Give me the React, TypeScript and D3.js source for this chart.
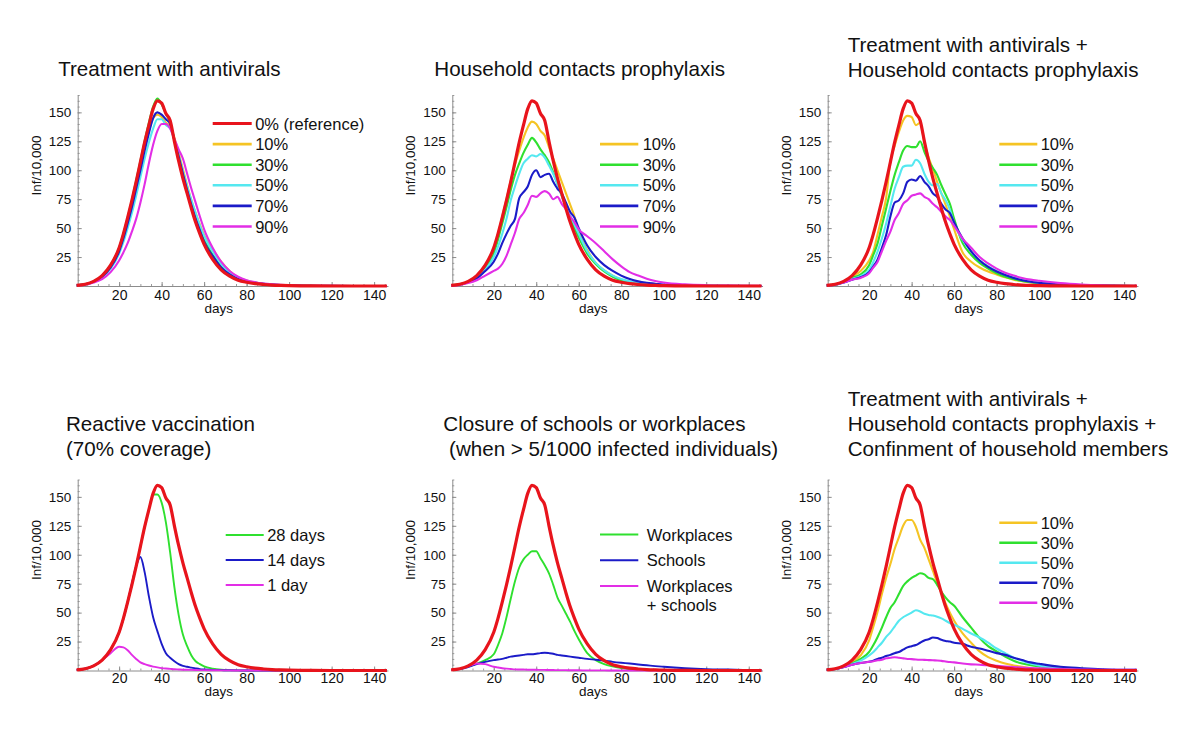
import React, { useEffect, useRef } from "react";
import * as d3 from "d3";

// sampling days shared by every series
const days = [0, 4, 8, 12, 16, 20, 22, 24, 26, 28, 30, 32, 34, 36, 38, 40, 42, 44, 46, 48, 50, 52, 54, 56, 58, 60, 64, 68, 72, 76, 80, 84, 88, 92, 96, 100, 110, 120, 130, 146];

// no intervention (red curve in every panel)
const reference = [0.5, 1.5, 4, 9, 18, 33, 45, 59, 74, 90, 107, 124, 139, 153, 160, 158, 149, 143, 125, 108, 93, 80, 67, 55, 45, 36, 23, 14, 8.5, 5, 3.2, 2, 1.3, 0.8, 0.5, 0.3, 0.1, 0, 0, 0];

// treatment with antivirals
const av10 = [0.5, 1.4, 3.8, 8.5, 17, 31, 42, 55, 70, 86, 103, 120, 134, 145, 148, 146, 141, 138, 128, 115, 101, 87, 74, 63, 53, 44, 32, 21, 13, 7.5, 4.7, 3, 2, 1.3, 0.8, 0.5, 0.2, 0.1, 0, 0];
const av30 = [0.5, 1.5, 4, 9, 18, 33, 45, 59, 74, 91, 108, 125, 141, 155, 162, 157, 149, 141, 126, 111, 97, 83, 70, 59, 49, 40, 27, 17, 10, 6, 3.8, 2.4, 1.6, 1, 0.6, 0.4, 0.1, 0, 0, 0];
const av50 = [0.5, 1.3, 3.5, 7.5, 15, 28, 38, 50, 63, 78, 94, 110, 124, 136, 144, 144, 139, 136, 126, 113, 99, 86, 74, 63, 52, 43, 30, 19, 11.5, 7, 4.5, 2.8, 1.8, 1.2, 0.7, 0.4, 0.1, 0, 0, 0];
const av70 = [0.5, 1.4, 3.7, 8, 16, 30, 41, 54, 68, 84, 100, 117, 132, 145, 150, 148, 144, 140, 126, 112, 97, 83, 70, 58, 48, 38, 26, 16, 10, 6, 4, 3, 2, 1.3, 0.8, 0.5, 0.2, 0.1, 0, 0];
const av90 = [0.4, 1.2, 3, 6, 12, 22, 29, 37, 47, 58, 72, 88, 106, 122, 134, 140, 140, 136, 127, 118, 110, 97, 84, 72, 60, 49, 33, 21, 13, 8, 5, 3.3, 2.2, 1.5, 1, 0.6, 0.2, 0.1, 0, 0];

// household contacts prophylaxis
const hp10 = [0.5, 1.4, 3.8, 8.5, 17, 32, 45, 60, 75, 91, 105, 117, 128, 137, 142, 140, 134, 130, 120, 110, 100, 90, 80, 70, 60, 47, 31, 20, 13.5, 9, 5.7, 3.7, 2.5, 1.7, 1, 0.7, 0.2, 0.1, 0, 0];
const hp30 = [0.5, 1.4, 3.6, 8, 16, 28, 40, 54, 68, 83, 96, 106, 115, 122, 128, 124, 118, 113, 107, 98, 88, 78, 68, 58, 50, 42, 28, 19, 12.5, 8, 5, 3.3, 2.2, 1.4, 0.9, 0.6, 0.2, 0.1, 0, 0];
const hp50 = [0.5, 1.3, 3.4, 7.5, 14, 25, 34, 45, 58, 74, 86, 97, 106, 110, 113, 112, 114, 111, 104, 97, 88, 78, 68, 61, 53, 45, 30, 20, 13.5, 9, 6, 4, 2.6, 1.7, 1.1, 0.7, 0.2, 0.1, 0, 0];
const hp70 = [0.5, 1.3, 3.2, 6.5, 13, 21, 28, 37, 45, 52, 58, 76, 81, 86, 96, 100, 94, 96, 97, 90, 84, 80, 72, 64, 59, 50, 35, 25, 18, 13, 9, 6, 4, 2.8, 2, 1.2, 0.4, 0.2, 0.1, 0];
const hp90 = [0.4, 1, 2.5, 5, 9, 13, 15, 19, 26, 36, 46, 58, 63, 70, 78, 77, 80, 82, 80, 75, 77, 71, 66, 60, 55, 49, 43, 37, 30, 23, 17, 12, 9, 6.3, 4.3, 3, 1.4, 0.7, 0.4, 0.1];

// antivirals + household prophylaxis
const ap10 = [0.5, 1.4, 3.8, 8, 13, 22, 30, 45, 60, 76, 108, 121, 133, 143, 147, 146, 139, 141, 124, 111, 101, 90, 80, 70, 60, 49, 29, 21, 16, 12.5, 10, 7.5, 5.5, 4.2, 3.2, 2.3, 1.1, 0.5, 0.2, 0];
const ap30 = [0.5, 1.3, 3.5, 7, 10, 18, 27, 37, 52, 67, 82, 96, 107, 117, 121, 120, 120, 125, 116, 108, 102, 96, 87, 79, 71, 58, 37, 27, 20, 15, 11, 8, 6, 4.3, 3.3, 2.5, 1.2, 0.6, 0.3, 0];
const ap50 = [0.5, 1.2, 3, 6, 8.5, 14, 21, 30, 41, 54, 69, 84, 94, 103, 104, 104, 109, 106, 97, 90, 87, 88, 80, 74, 66, 54, 40, 30, 22, 17, 13, 10, 7.5, 5.5, 4, 3, 1.4, 0.7, 0.3, 0];
const ap70 = [0.5, 1.2, 3, 5.5, 7.5, 12, 17, 23, 33, 44, 60, 72, 74, 80, 90, 92, 91, 95, 90, 86, 80, 77, 71, 66, 63, 55, 41, 30, 22, 16.5, 12.5, 9.5, 7, 5, 3.6, 2.7, 1.3, 0.6, 0.3, 0];
const ap90 = [0.5, 1.2, 3, 5.5, 7, 11, 16, 21, 30, 39, 47, 57, 63, 71, 74, 78, 79, 80, 77, 75, 71, 68, 64, 60, 57, 52, 41, 33, 25, 19.5, 15, 11.5, 9, 7, 5.5, 4.5, 2.5, 1.3, 0.6, 0.1];

// reactive vaccination, 70% coverage, by delay
const vac28 = [0.5, 1.5, 4, 9, 18, 33, 45, 59, 74, 90, 107, 124, 139, 152, 152, 145, 128, 102, 72, 48, 31, 21, 13, 8, 5.5, 3.5, 1.6, 0.7, 0.3, 0.1, 0, 0, 0, 0, 0, 0, 0, 0, 0, 0];
const vac14 = [0.5, 1.5, 4, 9, 18, 33, 45, 59, 75, 90, 98, 85, 64, 46, 34, 23, 15, 11, 8, 5.5, 4, 3.2, 2.5, 1.8, 1.2, 0.9, 0.5, 0.3, 0.2, 0.1, 0, 0, 0, 0, 0, 0, 0, 0, 0, 0];
const vac1 = [0.5, 1.5, 4, 9, 15, 20.5, 20, 17.5, 13.5, 10, 7, 5.5, 4.3, 3.4, 2.7, 2.1, 1.7, 1.4, 1.1, 0.9, 0.7, 0.6, 0.5, 0.4, 0.3, 0.3, 0.2, 0.1, 0.1, 0, 0, 0, 0, 0, 0, 0, 0, 0, 0, 0];

// closure of schools / workplaces
const closeWork = [0.5, 1.4, 3.5, 6, 9, 14, 22, 32, 46, 62, 77, 89, 96, 100, 103, 103, 97, 91, 84, 74, 63, 56, 49, 42, 34, 27, 15, 9, 5.5, 3.5, 2, 1.1, 0.7, 0.5, 0.3, 0.2, 0.1, 0, 0, 0];
const closeSchool = [0.5, 1.3, 3, 5.5, 7.5, 9, 9.5, 10, 11, 12, 12.5, 13, 13.5, 14, 14, 14.5, 15, 15.3, 15, 14.5, 13.5, 13, 12.5, 12, 11.5, 11, 10, 9.3, 8.5, 7.5, 6.7, 6, 5.2, 4.5, 3.8, 3.2, 2, 1.2, 0.8, 0.3];
const closeBoth = [0.5, 1.3, 3.5, 6, 5.5, 3.2, 2.6, 2, 1.6, 1.3, 1, 0.9, 0.8, 0.7, 0.6, 0.6, 0.5, 0.5, 0.4, 0.4, 0.3, 0.3, 0.3, 0.2, 0.2, 0.2, 0.1, 0.1, 0.1, 0, 0, 0, 0, 0, 0, 0, 0, 0, 0, 0];

// antivirals + prophylaxis + household confinement
const cf10 = [0.5, 1.4, 3.5, 7, 13, 26, 38, 51, 66, 80, 92, 105, 115, 125, 130, 130, 124, 113, 106, 96, 86, 76, 67, 58, 50, 43, 32, 24, 16.5, 11.5, 8.5, 6, 4.4, 3.2, 2.2, 1.5, 0.7, 0.3, 0.1, 0];
const cf30 = [0.5, 1.3, 3, 6, 10, 16, 22, 29, 37, 46, 54, 59, 66, 73, 77, 80, 82, 84, 83, 80, 79, 74, 68, 63, 59, 56, 46, 37, 28, 21, 16.5, 12, 8.5, 6, 4.5, 3.5, 1.8, 0.8, 0.4, 0];
const cf50 = [0.5, 1.2, 3, 5.5, 8.5, 13, 16, 20, 24, 29, 33, 38, 43, 46, 48, 50, 52, 51, 49, 48, 47.5, 46.5, 45, 43, 41, 39.5, 36, 32, 28.5, 24, 19, 15, 11, 8.5, 6, 4.3, 2, 0.9, 0.4, 0.1];
const cf70 = [0.5, 1.3, 3, 5, 6.5, 7.5, 8.5, 10, 11, 12.5, 13.5, 15, 16, 18, 20, 21, 22, 24, 26, 27, 28.5, 28, 26.5, 25.5, 25, 24, 23, 20.5, 19, 17, 15, 13.5, 11, 9, 7, 5.8, 3.2, 2, 1.1, 0.5];
const cf90 = [0.5, 1.3, 3, 5, 6.5, 7.5, 8, 8.8, 9.3, 10.5, 11, 11.5, 11, 10.5, 10, 9.8, 9.5, 9.3, 9.2, 9, 8.8, 8.7, 8.3, 7.8, 7.3, 7, 6, 5.3, 5, 4.5, 4, 3.5, 3, 2.5, 2.1, 1.8, 1.2, 0.9, 0.7, 0.5];

const yTicks = [25, 50, 75, 100, 125, 150];
const xTicks = [20, 40, 60, 80, 100, 120, 140];
const pctLabels = ["10%", "30%", "50%", "70%", "90%"];

const RED = "#e8141c";
const YELLOW = "#f5c424";
const GREEN = "#2fe02f";
const CYAN = "#55e8f0";
const BLUE = "#1b1bc8";
const MAGENTA = "#e22ee6";
const pctColors = [YELLOW, GREEN, CYAN, BLUE, MAGENTA];
const FONT = "'Liberation Sans', Arial, Helvetica, sans-serif";

const colLeft = [77.7, 452.3, 827.7];
const rowBottom = [286, 670.5];
const plotW = 310.25;
const plotH = 191;

const pct = (vals) => vals.map((v, i) => ({ label: pctLabels[i], values: v, color: pctColors[i] }));

const panels = [
  {
    col: 0, row: 0,
    title: ["Treatment with antivirals"], titleDx: -19.5, baselines: [76],
    legend: { x0: 135, x1: 174, tx: 177.5, y0: 123.5, dy: 20.6, showRef: true },
    series: pct([av10, av30, av50, av70, av90]),
  },
  {
    col: 1, row: 0,
    title: ["Household contacts prophylaxis"], titleDx: -18, baselines: [76],
    legend: { x0: 147.7, x1: 186, tx: 190.4, y0: 144.1, dy: 20.6 },
    series: pct([hp10, hp30, hp50, hp70, hp90]),
  },
  {
    col: 2, row: 0,
    title: ["Treatment with antivirals +", "Household contacts prophylaxis"], titleDx: 20, baselines: [52, 77],
    legend: { x0: 171.6, x1: 209.6, tx: 213, y0: 144.1, dy: 20.6 },
    series: pct([ap10, ap30, ap50, ap70, ap90]),
  },
  {
    col: 0, row: 1,
    title: ["Reactive vaccination", "(70% coverage)"], titleDx: -11.7, baselines: [431, 456],
    legend: { x0: 148, x1: 186, tx: 189.5, y0: 535, dy: 25, thin: true },
    series: [
      { label: "28 days", values: vac28, color: GREEN },
      { label: "14 days", values: vac14, color: BLUE },
      { label: "1 day", values: vac1, color: MAGENTA },
    ],
  },
  {
    col: 1, row: 1,
    title: ["Closure of schools or workplaces", " (when > 5/1000 infected individuals)"], titleDx: -9, baselines: [431, 456],
    legend: { x0: 147.7, x1: 186, tx: 194.4, y0: 534.5, dy: 25.7, thin: true },
    series: [
      { label: "Workplaces", values: closeWork, color: GREEN },
      { label: "Schools", values: closeSchool, color: BLUE },
      { label: "Workplaces", extra: "+ schools", values: closeBoth, color: MAGENTA },
    ],
  },
  {
    col: 2, row: 1,
    title: ["Treatment with antivirals +", "Household contacts prophylaxis +", "Confinment of household members"], titleDx: 20, baselines: [406, 431, 456],
    legend: { x0: 171.6, x1: 209.6, tx: 213, y0: 522.7, dy: 20 },
    series: pct([cf10, cf30, cf50, cf70, cf90]),
  },
];

export default function App() {
  const ref = useRef(null);

  useEffect(() => {
    draw();
  }, []);

  let draw = () => {
    let svg = d3.select(ref.current);
    svg.selectAll("*").remove();

    panels.forEach((p) => {
      let left = colLeft[p.col];
      let bottom = rowBottom[p.row];
      let g = svg.append("g");

      let x = d3.scaleLinear().domain([0.5, 146.5]).range([left, left + plotW]);
      let y = d3.scaleLinear().domain([0, 165]).range([bottom, bottom - plotH]);

      // title
      p.title.forEach((t, i) => {
        g.append("text")
          .attr("x", left + p.titleDx)
          .attr("y", p.baselines[i])
          .attr("font-size", 20.6)
          .attr("font-family", FONT)
          .attr("fill", "#111")
          .style("white-space", "pre")
          .text(t);
      });

      // minor ticks
      g.append("g")
        .attr("transform", `translate(${left},0)`)
        .call(d3.axisLeft(y).tickValues(d3.range(5, 166, 5)).tickSize(-2).tickSizeOuter(0).tickFormat(() => ""))
        .call((a) => a.select(".domain").remove())
        .call((a) => a.selectAll("line").attr("stroke", "#9a9a9a"));
      g.append("g")
        .attr("transform", `translate(0,${bottom})`)
        .call(d3.axisBottom(x).tickValues(d3.range(5, 146, 5)).tickSize(-2).tickSizeOuter(0).tickFormat(() => ""))
        .call((a) => a.select(".domain").remove())
        .call((a) => a.selectAll("line").attr("stroke", "#9a9a9a"));

      // y axis
      let ya = g.append("g")
        .attr("transform", `translate(${left},0)`)
        .call(d3.axisLeft(y).tickValues(yTicks).tickSize(-4).tickSizeOuter(0).tickPadding(6.5));
      ya.select(".domain").attr("stroke", "#8c8c8c");
      ya.selectAll("line").attr("stroke", "#8c8c8c");
      ya.selectAll("text").attr("font-size", 13.5).attr("font-family", FONT).attr("fill", "#111");

      // x axis
      let tickPad = p.row === 0 ? 4 : 2.5;
      let xa = g.append("g")
        .attr("transform", `translate(0,${bottom})`)
        .call(d3.axisBottom(x).tickValues(xTicks).tickSize(-4).tickSizeOuter(0).tickPadding(tickPad));
      xa.select(".domain").attr("stroke", "#8c8c8c");
      xa.selectAll("line").attr("stroke", "#8c8c8c");
      xa.selectAll("text").attr("font-size", 14).attr("font-family", FONT).attr("fill", "#111");

      g.append("text")
        .attr("x", left + 141)
        .attr("y", bottom + tickPad + 10 + 13)
        .attr("text-anchor", "middle")
        .attr("font-size", 13.5)
        .attr("font-family", FONT)
        .attr("fill", "#111")
        .text("days");

      let cy = bottom - plotH / 2 - 25;
      g.append("text")
        .attr("transform", `translate(${left - 37},${cy}) rotate(-90)`)
        .attr("text-anchor", "middle")
        .attr("font-size", 13.5)
        .attr("font-family", FONT)
        .attr("fill", "#111")
        .text("Inf/10,000");

      // curves
      let line = d3.line()
        .x((d, i) => x(days[i]))
        .y((d) => y(d))
        .curve(d3.curveMonotoneX);

      p.series.forEach((s) => {
        g.append("path")
          .attr("d", line(s.values))
          .attr("fill", "none")
          .attr("stroke", s.color)
          .attr("stroke-width", p.legend.thin ? 1.9 : 2.1)
          .attr("stroke-linejoin", "round");
      });
      g.append("path")
        .attr("d", line(reference))
        .attr("fill", "none")
        .attr("stroke", RED)
        .attr("stroke-width", 3.2)
        .attr("stroke-linejoin", "round");

      // legend
      let L = p.legend;
      let items = L.showRef
        ? [{ label: "0% (reference)", color: RED, isRef: true }, ...p.series]
        : p.series;
      items.forEach((s, i) => {
        let ry = L.y0 + i * L.dy;
        g.append("line")
          .attr("x1", left + L.x0)
          .attr("x2", left + L.x1)
          .attr("y1", ry)
          .attr("y2", ry)
          .attr("stroke", s.color)
          .attr("stroke-width", s.isRef ? 3.2 : L.thin ? 2 : 2.6);
        g.append("text")
          .attr("x", left + L.tx)
          .attr("y", ry + 6)
          .attr("font-size", 16.5)
          .attr("font-family", FONT)
          .attr("fill", "#111")
          .text(s.label);
        if (s.extra) {
          g.append("text")
            .attr("x", left + L.tx)
            .attr("y", ry + 6 + 19.5)
            .attr("font-size", 16.5)
            .attr("font-family", FONT)
            .attr("fill", "#111")
            .text(s.extra);
        }
      });
    });
  };

  return (
    <svg
      ref={ref}
      width={1200}
      height={749}
      style={{ position: "absolute", left: 0, top: 0, background: "#fff", display: "block" }}
    />
  );
}
